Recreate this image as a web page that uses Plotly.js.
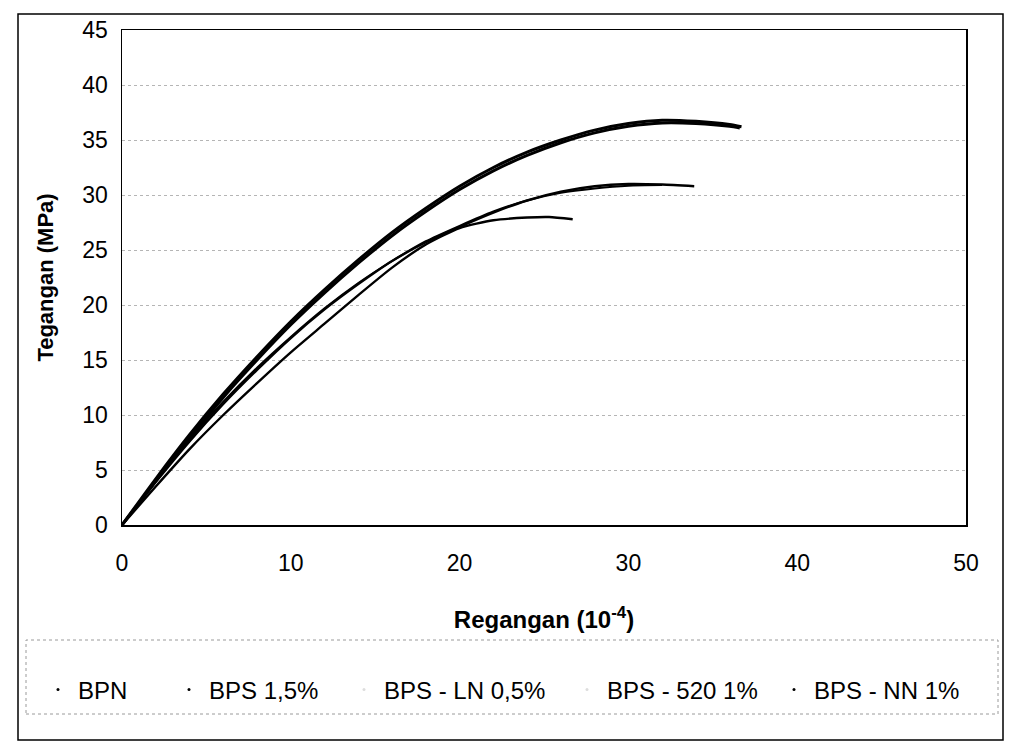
<!DOCTYPE html>
<html>
<head>
<meta charset="utf-8">
<script src="https://cdn.plot.ly/plotly-3.0.1.min.js"></script>
<style>html,body{margin:0;padding:0;background:#fff;}#chart{width:1014px;height:753px;}</style>
</head>
<body>
<div id="chart"></div>
<script>
// Series names (legend order)
const seriesNames = ["BPN", "BPS 1,5%", "BPS - LN 0,5%", "BPS - 520 1%", "BPS - NN 1%"];

// Strain (10^-4) and stress (MPa) values
const strainBPN = [0, 2, 4, 6, 8, 10, 12, 14, 16, 18, 20, 22, 24, 25.3, 26.7];
const stressBPN = [0, 3.5, 6.9, 10.0, 12.9, 15.7, 18.3, 20.9, 23.4, 25.5, 27.0, 27.7, 27.95, 28.0, 27.8];

const strainBPS15 = [0, 2, 4, 6, 8, 10, 12, 14, 16, 18, 20, 22, 24, 26, 28, 30, 32, 33.9];
const stressBPS15 = [0, 3.9, 7.6, 11.0, 14.1, 17.0, 19.6, 21.9, 24.0, 25.7, 27.1, 28.4, 29.5, 30.3, 30.8, 31.0, 30.95, 30.8];

const strainLN = [0, 2, 4, 6, 8, 10, 12, 14, 16, 18, 20, 22, 24, 26, 28, 30, 32];
const stressLN = [0, 4.0, 7.8, 11.2, 14.3, 17.1, 19.7, 22.0, 24.0, 25.8, 27.2, 28.5, 29.5, 30.2, 30.6, 30.85, 30.9];

const strain520 = [0, 2, 4, 6, 8, 10, 12, 14, 16, 18, 20, 22, 24, 26, 28, 30, 32, 34, 36, 36.6];
const stress520 = [0, 4.0, 7.9, 11.6, 15.0, 18.2, 21.1, 23.8, 26.3, 28.5, 30.5, 32.2, 33.6, 34.75, 35.65, 36.25, 36.55, 36.5, 36.25, 36.1];

const strainNN = [0, 2, 4, 6, 8, 10, 12, 14, 16, 18, 20, 22, 24, 26, 28, 30, 32, 34, 36, 36.7];
const stressNN = [0, 4.2, 8.2, 11.9, 15.3, 18.5, 21.4, 24.1, 26.6, 28.8, 30.8, 32.5, 33.9, 35.0, 35.9, 36.5, 36.8, 36.7, 36.4, 36.2];

// Axis ticks
const xTicks = [0, 10, 20, 30, 40, 50];
const yTicks = [0, 5, 10, 15, 20, 25, 30, 35, 40, 45];

const strains = [strainBPN, strainBPS15, strainLN, strain520, strainNN];
const stresses = [stressBPN, stressBPS15, stressLN, stress520, stressNN];
const widths = [2.4, 2.4, 2.0, 3.0, 3.0];
const legendDotColor = ["#000", "#000", "#ddd", "#ddd", "#000"];
const legendIds = ["legend", "legend2", "legend3", "legend4", "legend5"];
const legendTextStart = [78, 209, 384, 607, 814];

const FONT = "'Liberation Sans', Arial, sans-serif";
const W = 1014, H = 753;

const traces = [];
for (let i = 0; i < seriesNames.length; i++) {
  traces.push({
    type: "scatter", mode: "lines", name: seriesNames[i],
    x: strains[i], y: stresses[i],
    line: {color: "#000", width: widths[i], shape: "spline", smoothing: 0.6},
    showlegend: false, hoverinfo: "x+y+name"
  });
}
for (let i = 0; i < seriesNames.length; i++) {
  traces.push({
    type: "scatter", mode: "markers", name: seriesNames[i],
    x: [null], y: [null],
    marker: {color: legendDotColor[i], size: 3},
    showlegend: true, legend: legendIds[i], hoverinfo: "skip"
  });
}

// plot area in pixels
const L = 122, R = 48, T = 30, B = 228;
const pw = W - L - R, ph = H - T - B;
const px2paperX = p => (p - L) / pw;
const py2paperY = p => (H - B - p) / ph;

const layout = {
  width: W, height: H,
  margin: {l: L, r: R, t: T, b: B},
  paper_bgcolor: "#fff", plot_bgcolor: "#fff",
  font: {family: FONT, color: "#000", size: 23},
  xaxis: {
    range: [0, 50], tickvals: xTicks, ticktext: xTicks.map(String),
    showgrid: false, zeroline: false,
    showline: true, linecolor: "#000", linewidth: 1.5, mirror: true,
    ticks: "", ticklabelstandoff: 17,
    tickfont: {family: FONT, size: 23, color: "#000"},
    automargin: true,
    title: {text: "Regangan (10<sup>-4</sup>)", font: {family: FONT, size: 24, color: "#000", weight: "bold"}, standoff: 36}
  },
  yaxis: {
    range: [0, 45], tickvals: yTicks, ticktext: yTicks.map(String),
    showgrid: true, gridcolor: "#b5b5b5", griddash: "dot", gridwidth: 1,
    zeroline: false,
    showline: true, linecolor: "#000", linewidth: 1.5, mirror: true,
    ticks: "", ticklabelstandoff: 8,
    tickfont: {family: FONT, size: 23, color: "#000"},
    automargin: true,
    title: {text: "Tegangan (MPa)", font: {family: FONT, size: 22, color: "#000", weight: "bold"}, standoff: 22}
  },
  shapes: [
    {type: "rect", xref: "paper", yref: "paper",
     x0: px2paperX(18), x1: px2paperX(1003), y0: py2paperY(740), y1: py2paperY(14),
     line: {color: "#000", width: 1.5}, fillcolor: "rgba(0,0,0,0)", layer: "below"},
    {type: "rect", xref: "paper", yref: "paper",
     x0: px2paperX(26), x1: px2paperX(998), y0: py2paperY(714), y1: py2paperY(640),
     line: {color: "#9a9a9a", width: 1, dash: "dot"}, fillcolor: "rgba(0,0,0,0)", layer: "below"}
  ],
  showlegend: true
};

for (let i = 0; i < legendIds.length; i++) {
  layout[legendIds[i]] = {
    xref: "container", yref: "container",
    x: (legendTextStart[i] - 40) / W, y: 1 - 690 / H,
    xanchor: "left", yanchor: "middle",
    orientation: "h", bgcolor: "rgba(0,0,0,0)", borderwidth: 0,
    font: {family: FONT, size: 24, color: "#000"},
    itemwidth: 30
  };
}

Plotly.newPlot("chart", traces, layout, {displayModeBar: false, staticPlot: true});
</script>
</body>
</html>
